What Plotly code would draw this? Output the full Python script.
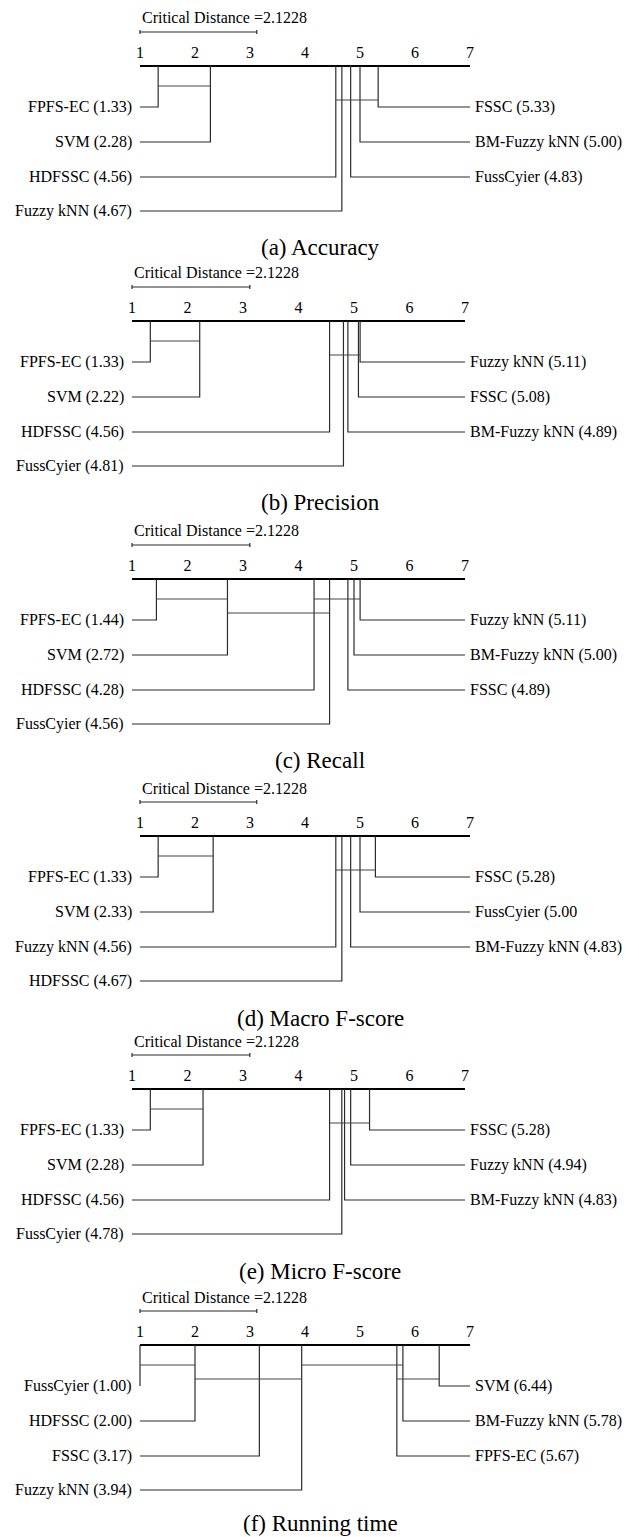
import plotly.graph_objects as go

W, H = 639, 1537
FONT = "'Liberation Serif', 'Times New Roman', Times, serif"
CD = 2.1228
TICKS = [1, 2, 3, 4, 5, 6, 7]

titles = ["(a) Accuracy", "(b) Precision", "(c) Recall",
          "(d) Macro F-score", "(e) Micro F-score", "(f) Running time"]

# Display order: 4 methods on the left (ascending), 3 on the right (descending)
acc_names = ["FPFS-EC", "SVM", "HDFSSC", "Fuzzy kNN", "FSSC", "BM-Fuzzy kNN", "FussCyier"]
acc_ranks = [1.33, 2.28, 4.56, 4.67, 5.33, 5.00, 4.83]
acc_labels = ["FPFS-EC (1.33)", "SVM (2.28)", "HDFSSC (4.56)", "Fuzzy kNN (4.67)",
              "FSSC (5.33)", "BM-Fuzzy kNN (5.00)", "FussCyier (4.83)"]
acc_cliques = [["FPFS-EC", "SVM"],
               ["HDFSSC", "Fuzzy kNN", "FussCyier", "BM-Fuzzy kNN", "FSSC"]]

pre_names = ["FPFS-EC", "SVM", "HDFSSC", "FussCyier", "Fuzzy kNN", "FSSC", "BM-Fuzzy kNN"]
pre_ranks = [1.33, 2.22, 4.56, 4.81, 5.11, 5.08, 4.89]
pre_labels = ["FPFS-EC (1.33)", "SVM (2.22)", "HDFSSC (4.56)", "FussCyier (4.81)",
              "Fuzzy kNN (5.11)", "FSSC (5.08)", "BM-Fuzzy kNN (4.89)"]
pre_cliques = [["FPFS-EC", "SVM"],
               ["HDFSSC", "FussCyier", "BM-Fuzzy kNN", "FSSC", "Fuzzy kNN"]]

rec_names = ["FPFS-EC", "SVM", "HDFSSC", "FussCyier", "Fuzzy kNN", "BM-Fuzzy kNN", "FSSC"]
rec_ranks = [1.44, 2.72, 4.28, 4.56, 5.11, 5.00, 4.89]
rec_labels = ["FPFS-EC (1.44)", "SVM (2.72)", "HDFSSC (4.28)", "FussCyier (4.56)",
              "Fuzzy kNN (5.11)", "BM-Fuzzy kNN (5.00)", "FSSC (4.89)"]
rec_cliques = [["FPFS-EC", "SVM"],
               ["SVM", "HDFSSC", "FussCyier"],
               ["HDFSSC", "FussCyier", "FSSC", "BM-Fuzzy kNN", "Fuzzy kNN"]]

maf_names = ["FPFS-EC", "SVM", "Fuzzy kNN", "HDFSSC", "FSSC", "FussCyier", "BM-Fuzzy kNN"]
maf_ranks = [1.33, 2.33, 4.56, 4.67, 5.28, 5.00, 4.83]
maf_labels = ["FPFS-EC (1.33)", "SVM (2.33)", "Fuzzy kNN (4.56)", "HDFSSC (4.67)",
              "FSSC (5.28)", "FussCyier (5.00", "BM-Fuzzy kNN (4.83)"]
maf_cliques = [["FPFS-EC", "SVM"],
               ["Fuzzy kNN", "HDFSSC", "BM-Fuzzy kNN", "FussCyier", "FSSC"]]

mif_names = ["FPFS-EC", "SVM", "HDFSSC", "FussCyier", "FSSC", "Fuzzy kNN", "BM-Fuzzy kNN"]
mif_ranks = [1.33, 2.28, 4.56, 4.78, 5.28, 4.94, 4.83]
mif_labels = ["FPFS-EC (1.33)", "SVM (2.28)", "HDFSSC (4.56)", "FussCyier (4.78)",
              "FSSC (5.28)", "Fuzzy kNN (4.94)", "BM-Fuzzy kNN (4.83)"]
mif_cliques = [["FPFS-EC", "SVM"],
               ["HDFSSC", "FussCyier", "BM-Fuzzy kNN", "Fuzzy kNN", "FSSC"]]

run_names = ["FussCyier", "HDFSSC", "FSSC", "Fuzzy kNN", "SVM", "BM-Fuzzy kNN", "FPFS-EC"]
run_ranks = [1.00, 2.00, 3.17, 3.94, 6.44, 5.78, 5.67]
run_labels = ["FussCyier (1.00)", "HDFSSC (2.00)", "FSSC (3.17)", "Fuzzy kNN (3.94)",
              "SVM (6.44)", "BM-Fuzzy kNN (5.78)", "FPFS-EC (5.67)"]
run_cliques = [["FussCyier", "HDFSSC"],
               ["HDFSSC", "FSSC", "Fuzzy kNN"],
               ["Fuzzy kNN", "FPFS-EC", "BM-Fuzzy kNN"],
               ["FPFS-EC", "BM-Fuzzy kNN", "SVM"]]

panels = [
    (acc_names, acc_ranks, acc_labels, acc_cliques),
    (pre_names, pre_ranks, pre_labels, pre_cliques),
    (rec_names, rec_ranks, rec_labels, rec_cliques),
    (maf_names, maf_ranks, maf_labels, maf_cliques),
    (mif_names, mif_ranks, mif_labels, mif_cliques),
    (run_names, run_ranks, run_labels, run_cliques),
]

# ---- layout geometry (pixels) ----
axis_px = [66, 321, 579, 836, 1089, 1345]
left_px = [140, 132, 132, 140, 132, 140]
right_px = [470, 465, 465, 470, 465, 470]
row_off = [41, 76, 111, 145]          # left rows; right rows use first three
clique_off = [20, 34]
CD_BAR = -34
CD_TEXT = -48
CAPTION = 182
TOP, BOTTOM = -58, 190
PAD = 0.15

fig = go.Figure()
annotations = []
LINE_C = "#2b2b2b"

for k, (names, ranks, labels, cliques) in enumerate(panels):
    n = k + 1
    xr = "x" if n == 1 else f"x{n}"
    yr = "y" if n == 1 else f"y{n}"
    A = axis_px[k]
    bot = min(BOTTOM, H - A)
    unit = (right_px[k] - left_px[k]) / 6.0
    fig.update_layout(**{
        ("xaxis" if n == 1 else f"xaxis{n}"): dict(
            domain=[(left_px[k] - PAD * unit) / W, (right_px[k] + PAD * unit) / W],
            range=[1 - PAD, 7 + PAD], anchor="free", position=1 - A / H,
            side="top", tickvals=TICKS, ticktext=[str(t) for t in TICKS],
            showline=False, showgrid=False, zeroline=False, ticks="",
            ticklabelstandoff=5,
            tickfont=dict(family=FONT, size=16, color="black"),
            fixedrange=True),
        ("yaxis" if n == 1 else f"yaxis{n}"): dict(
            domain=[1 - (A + bot) / H, 1 - (A + TOP) / H],
            range=[bot, TOP], anchor=xr, visible=False, fixedrange=True),
    })

    # main axis line
    fig.add_trace(go.Scatter(x=[1, 7], y=[0, 0], mode="lines",
                             line=dict(color="black", width=2),
                             xaxis=xr, yaxis=yr, hoverinfo="skip"))
    # CD bar
    fig.add_trace(go.Scatter(x=[1, 1 + CD, None, 1, 1, None, 1 + CD, 1 + CD],
                             y=[CD_BAR, CD_BAR, None, CD_BAR - 2, CD_BAR + 2, None,
                                CD_BAR - 2, CD_BAR + 2],
                             mode="lines", line=dict(color=LINE_C, width=1.2),
                             xaxis=xr, yaxis=yr, hoverinfo="skip"))
    annotations.append(dict(x=1, y=CD_TEXT, xref=xr, yref=yr, xanchor="left",
                            yanchor="middle", showarrow=False,
                            text=f"Critical Distance ={CD}",
                            font=dict(family=FONT, size=16, color="black")))

    # method connector lines
    xs, ys = [], []
    nl = 4
    for i, (r, lab) in enumerate(zip(ranks, labels)):
        if i < nl:
            yrow = row_off[i]
            xs += [1, r, r, None]
            ys += [yrow, yrow, 0, None]
            annotations.append(dict(x=1, y=yrow, xref=xr, yref=yr, xanchor="right",
                                    yanchor="middle", xshift=-6, showarrow=False,
                                    text=lab,
                                    font=dict(family=FONT, size=16, color="black")))
        else:
            yrow = row_off[i - nl]
            xs += [7, r, r, None]
            ys += [yrow, yrow, 0, None]
            annotations.append(dict(x=7, y=yrow, xref=xr, yref=yr, xanchor="left",
                                    yanchor="middle", xshift=3, showarrow=False,
                                    text=lab,
                                    font=dict(family=FONT, size=16, color="black")))
    fig.add_trace(go.Scatter(x=xs, y=ys, mode="lines",
                             line=dict(color=LINE_C, width=1.2),
                             xaxis=xr, yaxis=yr, hoverinfo="skip"))

    # cliques
    cx, cy = [], []
    for j, members in enumerate(cliques):
        rr = [ranks[names.index(m)] for m in members]
        lvl = clique_off[j % 2]
        cx += [min(rr), max(rr), None]
        cy += [lvl, lvl, None]
    fig.add_trace(go.Scatter(x=cx, y=cy, mode="lines",
                             line=dict(color="#444444", width=1.2),
                             xaxis=xr, yaxis=yr, hoverinfo="skip"))

    cap_y = min(CAPTION, H - A - 14)
    annotations.append(dict(x=320 / W, y=cap_y, xref="paper", yref=yr,
                            xanchor="center", yanchor="middle", showarrow=False,
                            text=titles[k],
                            font=dict(family=FONT, size=23, color="black")))

fig.update_layout(width=W, height=H, autosize=False,
                  margin=dict(l=0, r=0, t=0, b=0),
                  font=dict(family=FONT),
                  paper_bgcolor="white", plot_bgcolor="rgba(0,0,0,0)",
                  showlegend=False, annotations=annotations)

fig.write_html("out.html", config={"displayModeBar": False},
               post_script="document.body.style.margin='0';"
                           "document.body.style.padding='0';"
                           "document.body.style.overflow='hidden';")
